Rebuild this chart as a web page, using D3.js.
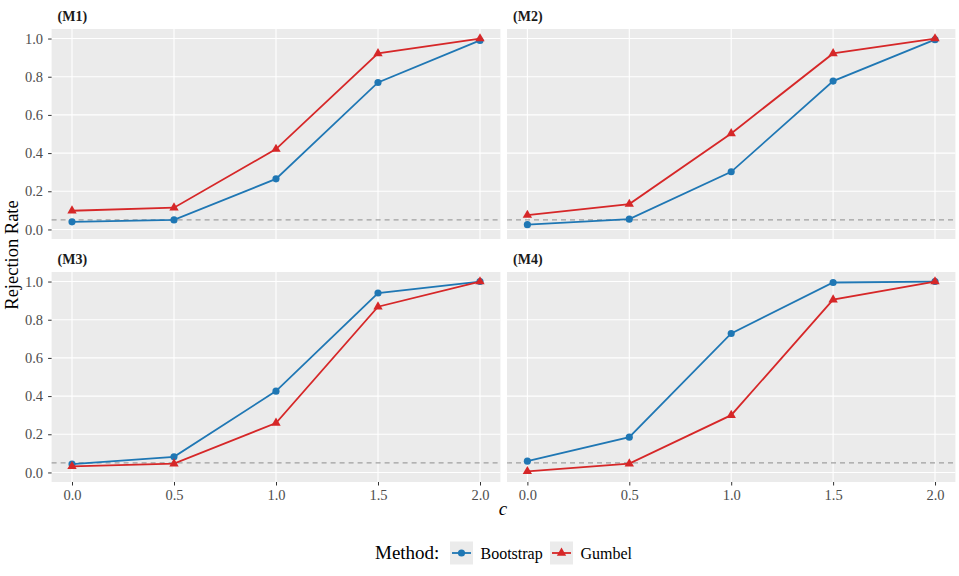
<!DOCTYPE html>
<html>
<head>
<meta charset="utf-8">
<script src="https://cdn.jsdelivr.net/npm/d3@7"></script>
<style>
  body { margin: 0; background: #fff; }
  svg text { font-family: "Liberation Serif", "Times New Roman", serif !important; }
</style>
</head>
<body>
<div class="chart"></div>
<script>
// data
var cValues = [0.0, 0.5, 1.0, 1.5, 2.0];
var panelNames = ["(M1)", "(M2)", "(M3)", "(M4)"];
var bootstrap = [
    [0.04, 0.05, 0.265, 0.77, 0.99],
    [0.025, 0.054, 0.302, 0.777, 0.994],
    [0.044, 0.082, 0.426, 0.94, 1.0],
    [0.059, 0.185, 0.728, 0.995, 1.0]
];
var gumbel = [
    [0.098, 0.114, 0.421, 0.922, 1.0],
    [0.075, 0.133, 0.503, 0.922, 1.0],
    [0.032, 0.046, 0.259, 0.868, 1.0],
    [0.006, 0.046, 0.3, 0.905, 1.0]
];
var methods = ["Bootstrap", "Gumbel"];
var colors = ["#1f77b4", "#d62728"];
var xTicks = [0, 0.5, 1.0, 1.5, 2.0];
var yTicks = [0, 0.2, 0.4, 0.6, 0.8, 1.0];
var alpha = 0.05;

var serif = "Liberation Serif";
var width = 959;
var height = 576;
var cols = [{ left: 51.6, right: 500.4 }, { left: 507, right: 955.4 }];
var rows = [{ top: 29, bottom: 239 }, { top: 272, bottom: 482 }];

var svg = d3.select(".chart")
    .append("svg")
    .attr("width", width)
    .attr("height", height)
    .attr("font-family", serif);

panelNames.forEach(function (name, p) {
    var col = cols[p % 2];
    var row = rows[Math.floor(p / 2)];
    var x = d3.scaleLinear().domain([-0.1, 2.1]).range([col.left, col.right]);
    var y = d3.scaleLinear().domain([-0.05, 1.05]).range([row.bottom, row.top]);
    var g = svg.append("g");

    g.append("rect")
        .attr("x", col.left)
        .attr("y", row.top)
        .attr("width", col.right - col.left)
        .attr("height", row.bottom - row.top)
        .attr("fill", "#ebebeb");

    // grid
    g.selectAll(".gy").data(yTicks).enter().append("line")
        .attr("x1", col.left).attr("x2", col.right)
        .attr("y1", function (d) { return y(d); })
        .attr("y2", function (d) { return y(d); })
        .attr("stroke", "#fff").attr("stroke-width", 1.1);
    g.selectAll(".gx").data(xTicks).enter().append("line")
        .attr("y1", row.top).attr("y2", row.bottom)
        .attr("x1", function (d) { return x(d); })
        .attr("x2", function (d) { return x(d); })
        .attr("stroke", "#fff").attr("stroke-width", 1.1);

    // strip label
    g.append("text")
        .attr("x", col.left + 6)
        .attr("y", row.top - 8)
        .attr("font-family", serif)
        .attr("font-size", 14)
        .attr("font-weight", "bold")
        .attr("fill", "#1a1a1a")
        .text(name);

    // y axis on left column
    if (p % 2 == 0) {
        var ya = g.append("g")
            .attr("transform", "translate(" + col.left + ",0)")
            .call(d3.axisLeft(y).tickValues(yTicks).tickFormat(d3.format(".1f")).tickSize(3.5).tickPadding(5));
        ya.attr("font-family", serif).attr("font-size", 14.5);
        ya.select(".domain").remove();
        ya.selectAll("line").attr("stroke", "#333").attr("stroke-width", 1);
        ya.selectAll("text").attr("fill", "#4d4d4d");
    }
    // x axis on bottom row
    if (p >= 2) {
        var xa = g.append("g")
            .attr("transform", "translate(0," + row.bottom + ")")
            .call(d3.axisBottom(x).tickValues(xTicks).tickFormat(d3.format(".1f")).tickSize(3.5).tickPadding(4.5));
        xa.attr("font-family", serif).attr("font-size", 14.5);
        xa.select(".domain").remove();
        xa.selectAll("line").attr("stroke", "#333").attr("stroke-width", 1);
        xa.selectAll("text").attr("fill", "#4d4d4d");
    }

    // reference line
    g.append("line")
        .attr("x1", col.left).attr("x2", col.right)
        .attr("y1", y(alpha)).attr("y2", y(alpha))
        .attr("stroke", "#a0a0a0").attr("stroke-width", 1.1)
        .attr("stroke-dasharray", "5,4");

    var line = d3.line()
        .x(function (d, i) { return x(cValues[i]); })
        .y(function (d) { return y(d); });

    [bootstrap[p], gumbel[p]].forEach(function (vals, m) {
        g.append("path")
            .datum(vals)
            .attr("d", line)
            .attr("fill", "none")
            .attr("stroke", colors[m])
            .attr("stroke-width", 1.8);
        var sym = m == 0 ? d3.symbol().type(d3.symbolCircle).size(40)
                         : d3.symbol().type(d3.symbolTriangle).size(38);
        g.selectAll(".pt" + m).data(vals).enter().append("path")
            .attr("d", sym)
            .attr("transform", function (d, i) {
                return "translate(" + x(cValues[i]) + "," + y(d) + ")";
            })
            .attr("fill", colors[m]);
    });
});

// axis titles
svg.append("text")
    .attr("transform", "translate(18,255) rotate(-90)")
    .attr("text-anchor", "middle")
    .attr("font-family", serif)
    .attr("font-size", 18.5)
    .attr("fill", "#000")
    .text("Rejection Rate");
svg.append("text")
    .attr("x", 503)
    .attr("y", 515)
    .attr("text-anchor", "middle")
    .attr("font-family", serif)
    .attr("font-size", 19)
    .attr("font-style", "italic")
    .text("c");

// legend
var legend = svg.append("g").attr("font-family", serif);
legend.append("text")
    .attr("x", 375)
    .attr("y", 559)
    .attr("font-size", 19)
    .text("Method:");
var keyX = [450, 550];
methods.forEach(function (m, i) {
    var k = legend.append("g").attr("transform", "translate(" + keyX[i] + ",541.5)");
    k.append("rect").attr("width", 23).attr("height", 23).attr("fill", "#ebebeb");
    k.append("line").attr("x1", 2).attr("x2", 21).attr("y1", 11.5).attr("y2", 11.5)
        .attr("stroke", colors[i]).attr("stroke-width", 1.8);
    k.append("path")
        .attr("d", i == 0 ? d3.symbol().type(d3.symbolCircle).size(40)() : d3.symbol().type(d3.symbolTriangle).size(38)())
        .attr("transform", "translate(11.5,11.5)")
        .attr("fill", colors[i]);
    k.append("text")
        .attr("x", 30.5)
        .attr("y", 17)
        .attr("font-family", serif)
        .attr("font-size", 16)
        .text(m);
});
</script>
</body>
</html>
